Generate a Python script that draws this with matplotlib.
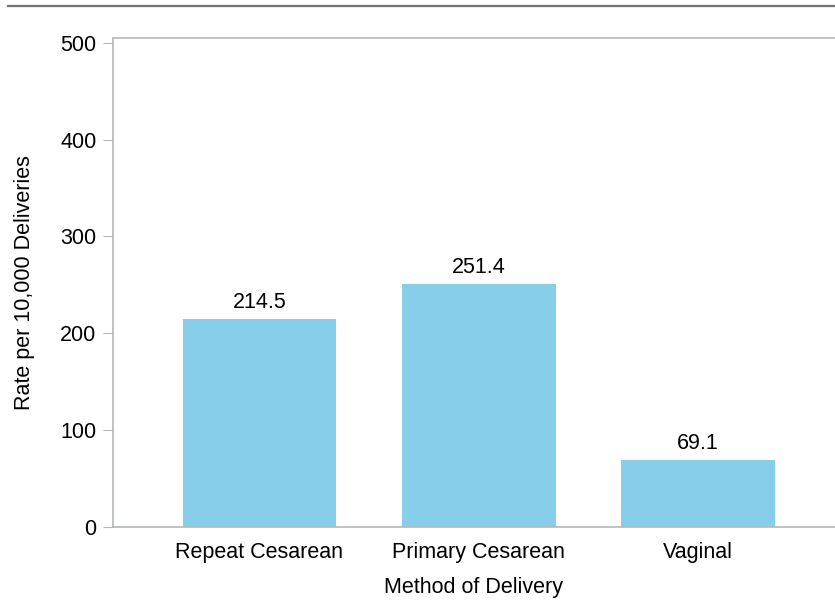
import matplotlib
matplotlib.use("Agg")
import matplotlib.pyplot as plt
from matplotlib.lines import Line2D

categories = ["Repeat Cesarean", "Primary Cesarean", "Vaginal"]
rates = [214.5, 251.4, 69.1]
yticks = [0, 100, 200, 300, 400, 500]

BAR = "#87CEEB"
SPINE = "#b4b8bb"
FS = 15.5

plt.rcParams["font.family"] = ["Liberation Sans", "DejaVu Sans"]

fig = plt.figure(figsize=(8.35, 6.02), dpi=100)
ax = fig.add_axes([113 / 835, 75 / 602, 1 - 113 / 835, (527 - 37.5) / 602])

x = range(len(categories))
bars = ax.bar(x, rates, width=0.7, color=BAR, zorder=2)
for b, v in zip(bars, rates):
    ax.text(b.get_x() + b.get_width() / 2, v + 6, f"{v:.1f}",
            ha="center", va="bottom", fontsize=FS)

ax.set_xlim(-0.667, 2.624)
ax.set_ylim(0, 505.5)
ax.set_yticks(yticks)
ax.set_xticks(list(x))
ax.set_xticklabels(categories)
ax.tick_params(axis="y", length=7, color=SPINE, labelsize=FS, pad=5)
ax.tick_params(axis="x", length=0, labelsize=FS, pad=11)

for side in ["left", "bottom", "top"]:
    ax.spines[side].set_color(SPINE)
    ax.spines[side].set_linewidth(1.2)
ax.spines["right"].set_visible(False)

ax.set_ylabel("Rate per 10,000 Deliveries", fontsize=FS, labelpad=18)
ax.set_xlabel("Method of Delivery", fontsize=FS, labelpad=10)

fig.add_artist(Line2D([8 / 835, 1], [1 - 5.5 / 602, 1 - 5.5 / 602],
                      color="#747474", lw=1.6, transform=fig.transFigure))

fig.savefig("out.png", dpi=100)
